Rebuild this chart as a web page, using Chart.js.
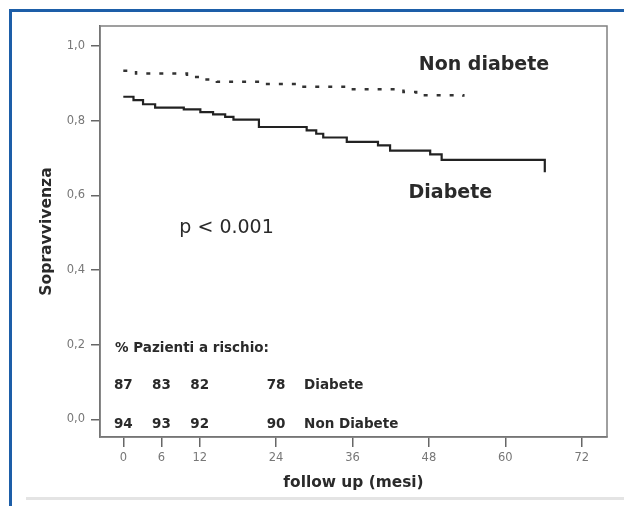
<!DOCTYPE html>
<html>
<head>
<meta charset="utf-8">
<script src="https://cdn.jsdelivr.net/npm/chart.js@4/dist/chart.umd.min.js"></script>
<style>
  html, body { margin: 0; padding: 0; background: #fff; }
  #wrap { position: relative; width: 624px; height: 506px; overflow: hidden; }
  #frameTop { position: absolute; left: 9px; top: 9px; width: 615px; height: 3px; background: #1d5ea8; }
  #frameLeft { position: absolute; left: 9px; top: 9px; width: 3px; height: 497px; background: #1d5ea8; }
  #frameBottom { position: absolute; left: 26px; top: 497px; width: 598px; height: 3px; background: #e4e4e4; }
  canvas { position: absolute; left: 0; top: 0; }
</style>
</head>
<body>
<div id="wrap">
  <div id="frameTop"></div>
  <div id="frameLeft"></div>
  <div id="frameBottom"></div>
  <canvas id="kmChart" width="624" height="506"></canvas>
</div>
<script>
// dati
const timeTicks = [0, 6, 12, 24, 36, 48, 60, 72];
const survTicks = [0, 0.2, 0.4, 0.6, 0.8, 1.0];

const diabeteT = [0, 1.6, 3.1, 5.0, 9.5, 12.1, 14.1, 16.0, 17.3, 21.3, 28.8, 30.3, 31.4, 35.1, 40.0, 41.9, 48.2, 50.0, 66.2, 66.2];
const diabeteS = [0.864, 0.855, 0.844, 0.835, 0.830, 0.823, 0.817, 0.810, 0.803, 0.783, 0.774, 0.765, 0.755, 0.743, 0.734, 0.720, 0.710, 0.695, 0.695, 0.662];

const nonDiabeteT = [0, 2.0, 10.0, 12.0, 14.7, 21.5, 27.7, 35.1, 44.0, 46.0, 53.4];
const nonDiabeteS = [0.934, 0.926, 0.917, 0.910, 0.904, 0.898, 0.891, 0.884, 0.877, 0.868, 0.864];

const riskTimes = [0, 6, 12, 24];
const riskDiabete = [87, 83, 82, 78];
const riskNonDiabete = [94, 93, 92, 90];

const toPoints = (t, s) => t.map((v, i) => ({ x: v, y: s[i] }));

const FONT = "'DejaVu Sans', sans-serif";

// testi dentro il grafico
const annotations = {
    id: "annotations",
    afterDatasetsDraw(chart) {
        const { ctx, chartArea, scales: { x, y } } = chart;
        ctx.save();
        // cornice dell'area del grafico
        ctx.strokeStyle = "#808080";
        ctx.lineWidth = 1.5;
        ctx.strokeRect(chartArea.left, chartArea.top, chartArea.right - chartArea.left, chartArea.bottom - chartArea.top);

        ctx.fillStyle = "#2a2a2a";
        ctx.textBaseline = "middle";
        ctx.textAlign = "left";
        ctx.font = "bold 19px " + FONT;
        ctx.fillText("Non diabete", x.getPixelForValue(46.4), y.getPixelForValue(0.949));
        ctx.fillText("Diabete", x.getPixelForValue(44.8), y.getPixelForValue(0.606));

        ctx.font = "19px " + FONT;
        ctx.fillText("p < 0.001", x.getPixelForValue(8.8), y.getPixelForValue(0.513));

        ctx.font = "bold 13.5px " + FONT;
        ctx.fillText("% Pazienti a rischio:", x.getPixelForValue(-1.3), y.getPixelForValue(0.191));
        ctx.fillText("Diabete", x.getPixelForValue(28.4), y.getPixelForValue(0.0905));
        ctx.fillText("Non Diabete", x.getPixelForValue(28.4), y.getPixelForValue(-0.013));

        ctx.textAlign = "center";
        riskTimes.forEach((t, i) => {
            ctx.fillText(String(riskDiabete[i]), x.getPixelForValue(t), y.getPixelForValue(0.0905));
            ctx.fillText(String(riskNonDiabete[i]), x.getPixelForValue(t), y.getPixelForValue(-0.013));
        });
        ctx.restore();
    }
};

new Chart(document.getElementById("kmChart").getContext("2d"), {
    type: "line",
    data: {
        datasets: [{
            label: "Diabete",
            data: toPoints(diabeteT, diabeteS),
            borderColor: "#222",
            borderWidth: 2.2,
            stepped: "before",
            pointRadius: 0,
            fill: false,
        }, {
            label: "Non diabete",
            data: toPoints(nonDiabeteT, nonDiabeteS),
            borderColor: "#333",
            borderWidth: 2.5,
            borderDash: [4, 9],
            stepped: "before",
            pointRadius: 0,
            fill: false,
        }],
    },
    options: {
        responsive: false,
        animation: false,
        layout: { padding: { top: 26, right: 17, left: 0, bottom: 0 } },
        plugins: { legend: { display: false }, tooltip: { enabled: false } },
        scales: {
            x: {
                type: "linear",
                min: -3.66,
                max: 75.97,
                afterBuildTicks: (s) => { s.ticks = timeTicks.map(v => ({ value: v })); },
                afterFit: (s) => { s.height = 69; },
                grid: { drawOnChartArea: false, drawTicks: true, tickLength: 10, color: "#666", lineWidth: 1.5 },
                border: { display: true, color: "#555", width: 1.5 },
                ticks: { color: "#777", font: { family: FONT, size: 11.5 }, padding: 4, maxRotation: 0 },
                title: { display: true, text: "follow up (mesi)", color: "#2a2a2a",
                         font: { family: FONT, size: 15.4, weight: "bold" }, padding: { top: 0, bottom: 13.5 } },
            },
            y: {
                type: "linear",
                min: -0.047,
                max: 1.0535,
                afterBuildTicks: (s) => { s.ticks = survTicks.map(v => ({ value: v })); },
                afterFit: (s) => { s.width = 100; },
                grid: { drawOnChartArea: false, drawTicks: true, tickLength: 9, color: "#666", lineWidth: 1.5 },
                border: { display: true, color: "#555", width: 1.5 },
                ticks: { color: "#777", font: { family: FONT, size: 11.5 }, padding: 6,
                         callback: (v) => v.toFixed(1).replace(".", ",") },
                title: { display: true, text: "Sopravvivenza", color: "#2a2a2a",
                         font: { family: FONT, size: 15.6, weight: "bold" }, padding: { top: 37.6, bottom: 0 } },
            },
        },
    },
    plugins: [annotations],
});
</script>
</body>
</html>
